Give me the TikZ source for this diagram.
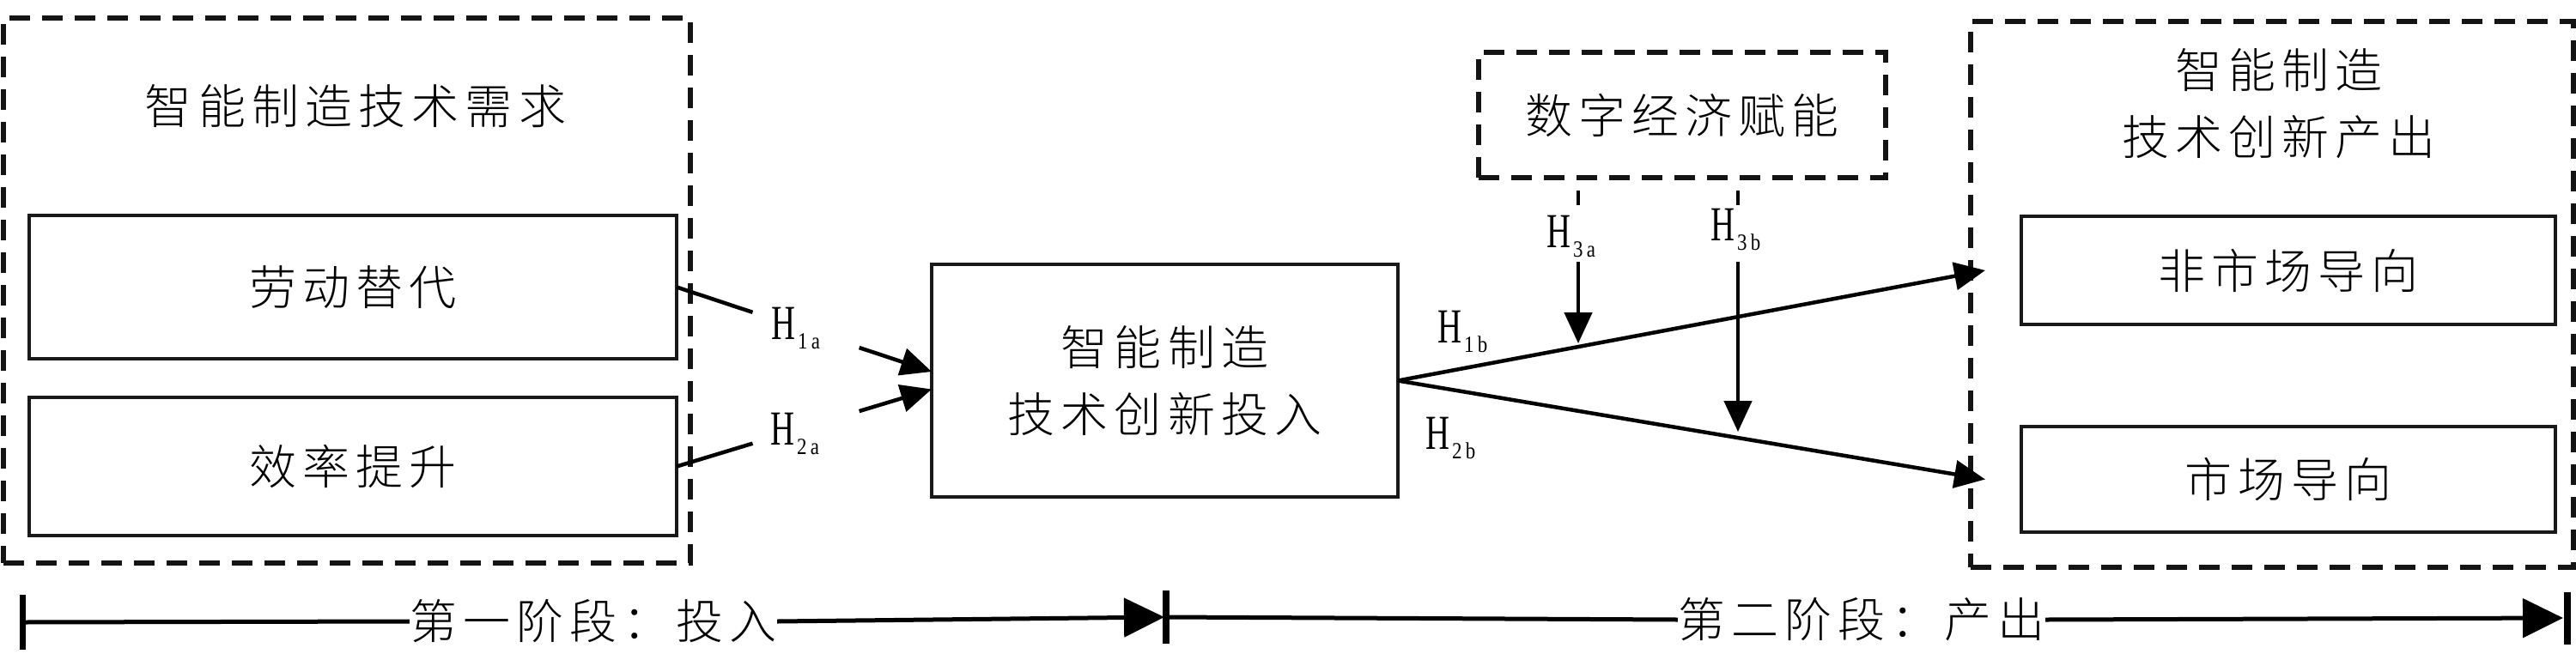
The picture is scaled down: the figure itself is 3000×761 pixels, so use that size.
\documentclass[tikz,border=0pt]{standalone}
\usepackage{fontspec}
\usepackage{graphicx}
\usetikzlibrary{arrows.meta,calc}
\newfontfamily\cjk[LetterSpace=13]{Noto Sans CJK SC Light}
\newfontfamily\hfont{Liberation Serif}
\newcommand{\hyp}[2]{{\hfont\scalebox{0.68}[1]{\fontsize{57}{57}\selectfont H}\kern3pt\raisebox{-11pt}{\scalebox{0.85}[1]{\fontsize{27}{27}\selectfont #1\kern5pt #2}}}}
\begin{document}
\begin{tikzpicture}[x=1pt,y=-1pt,
  solidbox/.style={draw=black!90, line width=4.5pt, inner sep=0pt, outer sep=0pt},
  dashbox/.style={draw=black!92, line width=5.5pt, dash pattern=on 24pt off 14pt, inner sep=0pt, outer sep=0pt},
  cjktext/.style={font=\cjk\fontsize{55}{78}\selectfont, align=center, inner sep=0pt},
  hlabel/.style={anchor=base west, inner sep=0pt},
  conn/.style={line width=4.5pt},
  arr/.style={conn, -{Triangle[length=36pt,width=32pt]}},
  tline/.style={line width=5pt},
  tarr/.style={tline, -{Triangle[length=47pt,width=45pt]}},
  tbar/.style={line width=7.5pt}
]
\useasboundingbox (0,0) rectangle (3000,761);

% left group
\node[dashbox, minimum width=800pt, minimum height=635pt] (dl) at (404,338.5) {};
\node[cjktext] (tl) at (414,124) {智能制造技术需求};
\node[solidbox, cjktext, minimum width=754pt, minimum height=167pt] (b1) at (411,334.5) {劳动替代};
\node[solidbox, cjktext, minimum width=754pt, minimum height=161pt] (b2) at (411,543.5) {效率提升};

% middle
\node[solidbox, cjktext, minimum width=543pt, minimum height=271pt] (mid) at (1356.5,443.5) {智能制造\\技术创新投入};

% digital economy
\node[dashbox, cjktext, minimum width=474pt, minimum height=146pt] (dig) at (1959,134) {数字经济赋能};

% right group
\node[dashbox, minimum width=702pt, minimum height=636pt] (dr) at (2646,343) {};
\node[cjktext] (tr) at (2654,121) {智能制造\\技术创新产出};
\node[solidbox, cjktext, minimum width=622pt, minimum height=126pt] (nm) at (2665,315) {非市场导向};
\node[solidbox, cjktext, minimum width=622pt, minimum height=123pt] (mk) at (2665,558.5) {市场导向};

% H1a / H2a
\coordinate (e1) at ($(mid.west)+(0,-10.5)$);
\coordinate (e2) at ($(mid.west)+(0,10)$);
\draw[conn] (b1.east) -- ($(b1.east)!0.298!(e1)$);
\draw[arr] ($(b1.east)!0.716!(e1)$) -- (e1);
\draw[conn] (b2.east) -- ($(b2.east)!0.298!(e2)$);
\draw[arr] ($(b2.east)!0.716!(e2)$) -- (e2);
\node[hlabel] (h1a) at (898,395) {\hyp{1}{a}};
\node[hlabel] (h2a) at (897,518) {\hyp{2}{a}};

% H1b / H2b
\coordinate (tu) at ($(nm.west)+(-42,0)$);
\coordinate (td) at ($(mk.west)+(-42,0)$);
\draw[arr] (mid.east) -- (tu);
\draw[arr] (mid.east) -- (td);
\node[hlabel] (h1b) at (1674,399) {\hyp{1}{b}};
\node[hlabel] (h2b) at (1660,523) {\hyp{2}{b}};

% H3a / H3b
\coordinate (d1) at ($(dig.south)+(-121,0)$);
\coordinate (d2) at ($(dig.south)+(65,0)$);
\path (mid.east) -- (tu) coordinate[pos=0.307] (x3a);
\path (mid.east) -- (td) coordinate[pos=0.579] (x3b);
\draw[conn] ($(d1)+(0,15)$) -- ($(d1)+(0,32)$);
\draw[conn] ($(d2)+(0,15)$) -- ($(d2)+(0,32)$);
\draw[arr] ($(d1)+(0,98)$) -- ($(d1|-x3a)+(0,-4)$);
\draw[arr] ($(d2)+(0,98)$) -- ($(d2|-x3b)+(0,-7)$);
\node[hlabel] (h3a) at (1801,288) {\hyp{3}{a}};
\node[hlabel] (h3b) at (1992,280) {\hyp{3}{b}};

% timeline
\coordinate (L) at (26.5,725);
\coordinate (M) at (1358,719);
\coordinate (R) at (2990,720);
\draw[tbar] ($(L)+(0,-32)$) -- ($(L)+(0,32)$);
\draw[tbar] ($(M)+(0,-31)$) -- ($(M)+(0,31)$);
\draw[tbar] ($(R)+(0,-30)$) -- ($(R)+(0,31)$);
\node[cjktext] (t1) at (691,724) {第一阶段：投入};
\node[cjktext] (t2) at (2168,722) {第二阶段：产出};
\draw[tline] (L) -- (t1.west);
\draw[tarr] (t1.east) -- ($(M)+(-2,0)$);
\draw[tline] (M) -- (t2.west);
\draw[tarr] (t2.east) -- ($(R)+(-5,0)$);
\end{tikzpicture}
\end{document}
